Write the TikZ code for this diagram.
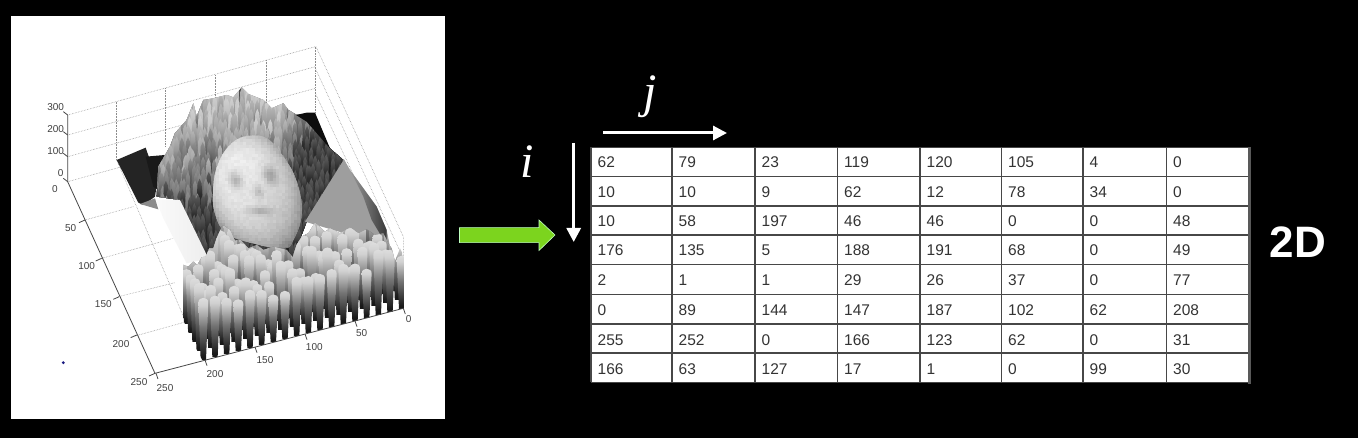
\documentclass[tikz,border=0pt]{standalone}
\usepackage{fontspec}
\setmainfont{Liberation Sans}
\newfontfamily\timesit{Liberation Serif}
\usetikzlibrary{arrows.meta}
\pgfdeclareverticalshading{spk0}{100bp}{color(0bp)=(black); color(28bp)=(black!90); color(50bp)=(black!55); color(68bp)=(black!18); color(85bp)=(black!4); color(100bp)=(white)}
\pgfdeclareverticalshading{spk1}{100bp}{color(0bp)=(black!75); color(45bp)=(black!45); color(75bp)=(black!12); color(100bp)=(white)}
\pgfdeclareverticalshading{mtn0}{100bp}{color(0bp)=(black!62); color(60bp)=(black!24); color(100bp)=(black!9)}
\pgfdeclareverticalshading{mtn1}{100bp}{color(0bp)=(black!85); color(55bp)=(black!40); color(100bp)=(black!14)}
\pgfdeclareverticalshading{mtn2}{100bp}{color(0bp)=(black!95); color(55bp)=(black!58); color(100bp)=(black!26)}
\pgfdeclareverticalshading{mtn3}{100bp}{color(0bp)=(black); color(55bp)=(black!82); color(100bp)=(black!42)}
\definecolor{dotblue}{rgb}{0.1,0.1,0.5}
\tikzset{
  axisline/.style={draw=black!72,line width=0.8pt},
  gridline/.style={draw=black!45,line width=0.55pt,densely dotted},
  ticklabel/.style={font=\fontsize{10}{10}\selectfont,text=black!75,inner sep=0pt},
  cellrule/.style={draw=black!72,line width=1.1pt},
  celltext/.style={font=\fontsize{15.5}{16}\selectfont,text=black!80,inner sep=0pt,anchor=base west},
  whitearrow/.style={draw=white,line width=3pt,-{Triangle[length=14pt,width=14pt]}},
  bigletter/.style={font=\timesit\itshape\fontsize{48}{48}\selectfont,text=white,inner sep=0pt,anchor=base}
}
\begin{document}
\begin{tikzpicture}[x=1pt,y=-1pt]
\useasboundingbox (0,0) rectangle (1358,438);
\fill[black] (0,0) rectangle (1358,438);
\fill[white] (11,16) rectangle (445,419);
\fill[dotblue] (63.3,362.7) circle (1.6);
% ---------- surface plot, coordinates at 3x
\begin{scope}[x=0.33333pt,y=-0.33333pt]
 % dotted box
 \foreach \a/\b in {203/345,203/405,203/470,203/545}{
   \pgfmathsetmacro\e{\b-205}
   \draw[gridline] (\a,\b) -- (946,\e);
 }
 \foreach \x/\t/\b in {350/305/480,497/265/440,645/225/400,798/180/360,946/140/340}
   \draw[gridline] (\x,\t) -- (\x,\b);
 \draw[gridline] (948,140) -- (1210,710) -- (1210,925);
 \draw[gridline] (946,205) -- (1210,775);
 \draw[gridline] (946,280) -- (1210,845);
 \draw[gridline] (350,480) -- (555,960);
 \draw[gridline] (255,660) -- (400,620);
 \draw[gridline] (305,775) -- (520,715);
 \draw[gridline] (355,890) -- (525,848);
 \draw[gridline] (405,1008) -- (560,965);
 % dark block
 \fill[black!86] (350,480) -- (437,443) -- (472,545) -- (465,590) -- (430,615) -- (415,608) -- cycle;
 \fill[black!90] (437,470) -- (495,465) -- (475,570) -- (460,560) -- cycle;
 \fill[black!45] (420,612) -- (465,595) -- (475,628) -- cycle;
 % mountain band
 \begin{scope}
  \clip (470,590) -- (475,500) -- (510,440) -- (525,400) -- (560,360) -- (580,310) -- (590,350) -- (610,300) -- (640,295) -- (680,285) -- (700,292) -- (725,262) -- (745,282) -- (790,300) -- (815,325) -- (850,310) -- (865,330) -- (890,345) -- (920,345) -- (960,400) -- (990,445) -- (1030,480) -- (920,665) -- (880,770) -- (620,780) -- (540,600) -- cycle;
  \fill[black!70] (450,250) rectangle (1040,800);
  \pgfmathsetseed{4217}
  \foreach \y in {240,262,...,740}{
   \foreach \x in {470,486,...,1030}{
     \pgfmathsetmacro\h{80+70*rnd}
     \pgfmathsetmacro\px{\x+12*rnd-6}
     \pgfmathsetmacro\py{\y+24*rnd-12}
     \pgfmathtruncatemacro\lv{max(0,min(3,(\y-250)/125+max(0,\x-840)/55+max(0,\y-600)/40+1.1*rnd))}
     \shade[shading=mtn\lv] (\px-12,\py+\h) -- (\px-6,\py+14) -- (\px,\py) -- (\px+6,\py+14) -- (\px+12,\py+\h) -- cycle;
   }
  }
 \end{scope}
 % black patch behind right shoulder
 \fill[black!95] (888,345) -- (920,338) -- (945,338) -- (990,445) -- (955,405) -- (920,365) -- cycle;
 % right slope
 \fill[black!38] (1032,478) -- (915,665) -- (1170,740) -- (1160,690) -- (1130,620) -- (1050,510) -- cycle;
 \shade[left color=black!38,right color=black!78] (1045,500) -- (1050,510) -- (1130,620) -- (1160,690) -- (1160,735) -- (1115,660) -- (1090,590) -- cycle;
 % white left slope
 \shade[left color=black!2,right color=black!7] (468,600) -- (540,600) -- (625,775) -- (560,790) -- (490,655) -- cycle;
 % face
 \begin{scope}
  \clip plot[smooth cycle,tension=0.7] coordinates {(745,408) (800,415) (850,470) (890,545) (905,640) (880,720) (850,745) (760,730) (680,700) (645,640) (640,565) (655,490) (695,430)};
  \fill[black!30] (620,400) rectangle (920,760);
  \pgfmathsetseed{77}
  \foreach \y in {400,409,...,750}{
   \foreach \x in {635,644,...,910}{
     \pgfmathsetmacro\uu{(\x-770-(\y-575)*0.2)/130}
     \pgfmathsetmacro\vv{(\y-575)/170}
     \pgfmathtruncatemacro\g{max(5,min(96,86-18*(\uu*\uu+\vv*\vv)*(\uu*\uu+\vv*\vv)-10*\vv-9*\uu
        -22*exp(-((\uu+0.42)*(\uu+0.42)+(\vv+0.22)*(\vv+0.22))*40)
        -22*exp(-((\uu-0.40)*(\uu-0.40)+(\vv+0.30)*(\vv+0.30))*40)
        -14*exp(-((\uu-0.05)*(\uu-0.05)+(\vv+0.02)*(\vv+0.02))*80)
        -16*exp(-((\uu-0.0)*(\uu-0.0)*0.5+(\vv-0.32)*(\vv-0.32)*8)*22)
        +4*rnd))}
     \pgfmathtruncatemacro\gd{\g-4}
     \fill[white!\g!black] (\x-6,\y) rectangle (\x+6,\y+7);
     \fill[white!\gd!black] (\x-6,\y+7) rectangle (\x+6,\y+13);
   }
  }
 \end{scope}
 % front spikes
 \begin{scope}
  \clip (550,795) -- (565,800) -- (580,785) -- (592,795) -- (605,772) -- (617,770) -- (628,745) -- (640,745) -- (650,715) -- (668,675) -- (690,690) -- (705,722) -- (720,718) -- (745,745) -- (770,735) -- (790,750) -- (820,740) -- (860,750) -- (878,772) -- (890,735) -- (905,710) -- (925,700) -- (945,668) -- (975,695) -- (990,685) -- (1020,700) -- (1050,682) -- (1075,700) -- (1100,688) -- (1125,705) -- (1150,700) -- (1165,730) -- (1175,745) -- (1185,785) -- (1200,745) -- (1212,770) -- (1212,930) -- (612,1090) -- (575,1020) -- (550,960) -- cycle;
  \pgfmathsetseed{915}
  \foreach \rr in {15,14,...,0}{
   \foreach \cc in {0,...,17}{
     \pgfmathsetmacro\bx{610+\cc*35-\rr*12.5}
     \pgfmathsetmacro\by{1080-\cc*9-\rr*27}
     \pgfmathsetmacro\h{150+45*rnd+25*sin(\cc*100+\rr*70)}
     \pgfmathtruncatemacro\k{\rr>5}
     \shade[shading=spk\k] (\bx-8,\by) -- (\bx+8,\by) -- (\bx+15,\by-\h+16) .. controls (\bx+15,\by-\h-3) and (\bx-15,\by-\h-3) .. (\bx-15,\by-\h+16) -- cycle;
   }
  }
 \end{scope}
 % axes
 \coordinate (ztop) at (203,345);
 \coordinate (orig) at (203,545);
 \coordinate (corner) at (465,1120);
 \coordinate (xend) at (1210,925);
 \draw[axisline] (ztop) -- (orig) -- (corner) -- (xend);
 \foreach \x/\y in {203/345,203/405,203/470,203/545} \draw[axisline] (\x,\y) -- ++(-13,-10);
 \foreach \x/\y in {255/660,305/775,358/890,410/1005,465/1120} \draw[axisline] (\x,\y) -- ++(-18,8);
 \foreach \x/\y in {468/1120,615/1080,765/1041,915/1002,1065/963,1210/925} \draw[axisline] (\x,\y) -- ++(6,17);
 \foreach \t/\x/\y in {300/167/322,200/167/387,100/167/453,0/182/518,0/165/567,50/212/683,100/260/798,150/310/912,200/363/1032,250/417/1146,250/495/1165,200/645/1123,150/795/1081,100/943/1041,50/1085/1000,0/1226/958}
   \node[ticklabel] (tl-\x-\y) at (\x,\y) {\t};
\end{scope}
% ---------- table
\fill[white] (591,147.5) rectangle (1249,382.5);
\foreach \x in {591,672,755,837.5,920,1001.5,1083,1166.5} \draw[cellrule] (\x,147.5) -- (\x,382.5);
\foreach \y in {147.5,176.5,206,235,264.7,294.7,324,353,382.5} \draw[cellrule] (591,\y) -- (1249,\y);
\draw[draw=black!65,line width=2.4pt] (1249.5,147) -- (1249.5,384);
\foreach \row [count=\rr] in {{62,79,23,119,120,105,4,0},{10,10,9,62,12,78,34,0},{10,58,197,46,46,0,0,48},{176,135,5,188,191,68,0,49},{2,1,1,29,26,37,0,77},{0,89,144,147,187,102,62,208},{255,252,0,166,123,62,0,31},{166,63,127,17,1,0,99,30}}{
  \foreach \val [count=\cc] in \row {
    \pgfmathsetmacro\cx{{591,672,755,837.5,920,1001.5,1083,1166.5}[\cc-1]+6.5}
    \pgfmathsetmacro\cy{{168,198,227,256,286,316,345,374.5}[\rr-1]}
    \node[celltext] (c-\rr-\cc) at (\cx,\cy) {\val};
  }
}
% ---------- arrows and letters
\coordinate (js) at (603,133);
\coordinate (je) at (727,133);
\coordinate (is) at (573.7,143);
\coordinate (ie) at (573.7,242);
\draw[whitearrow] (js) -- (je);
\draw[whitearrow] (is) -- (ie);
\draw[draw=white!75!green,line width=0.6pt,fill={rgb,255:red,124;green,212;blue,30}] (459.5,227.7) -- (539,227.7) -- (539,220) -- (555,235) -- (539,250.5) -- (539,242.7) -- (459.5,242.7) -- cycle;
\node[bigletter] (lj) at (650,108) {j};
\node[bigletter] (li) at (527,178) {i};
\node[font=\bfseries\fontsize{44}{44}\selectfont,text=white,inner sep=0pt,anchor=base] (dd) at (1298,258) {2D};
\end{tikzpicture}
\end{document}
